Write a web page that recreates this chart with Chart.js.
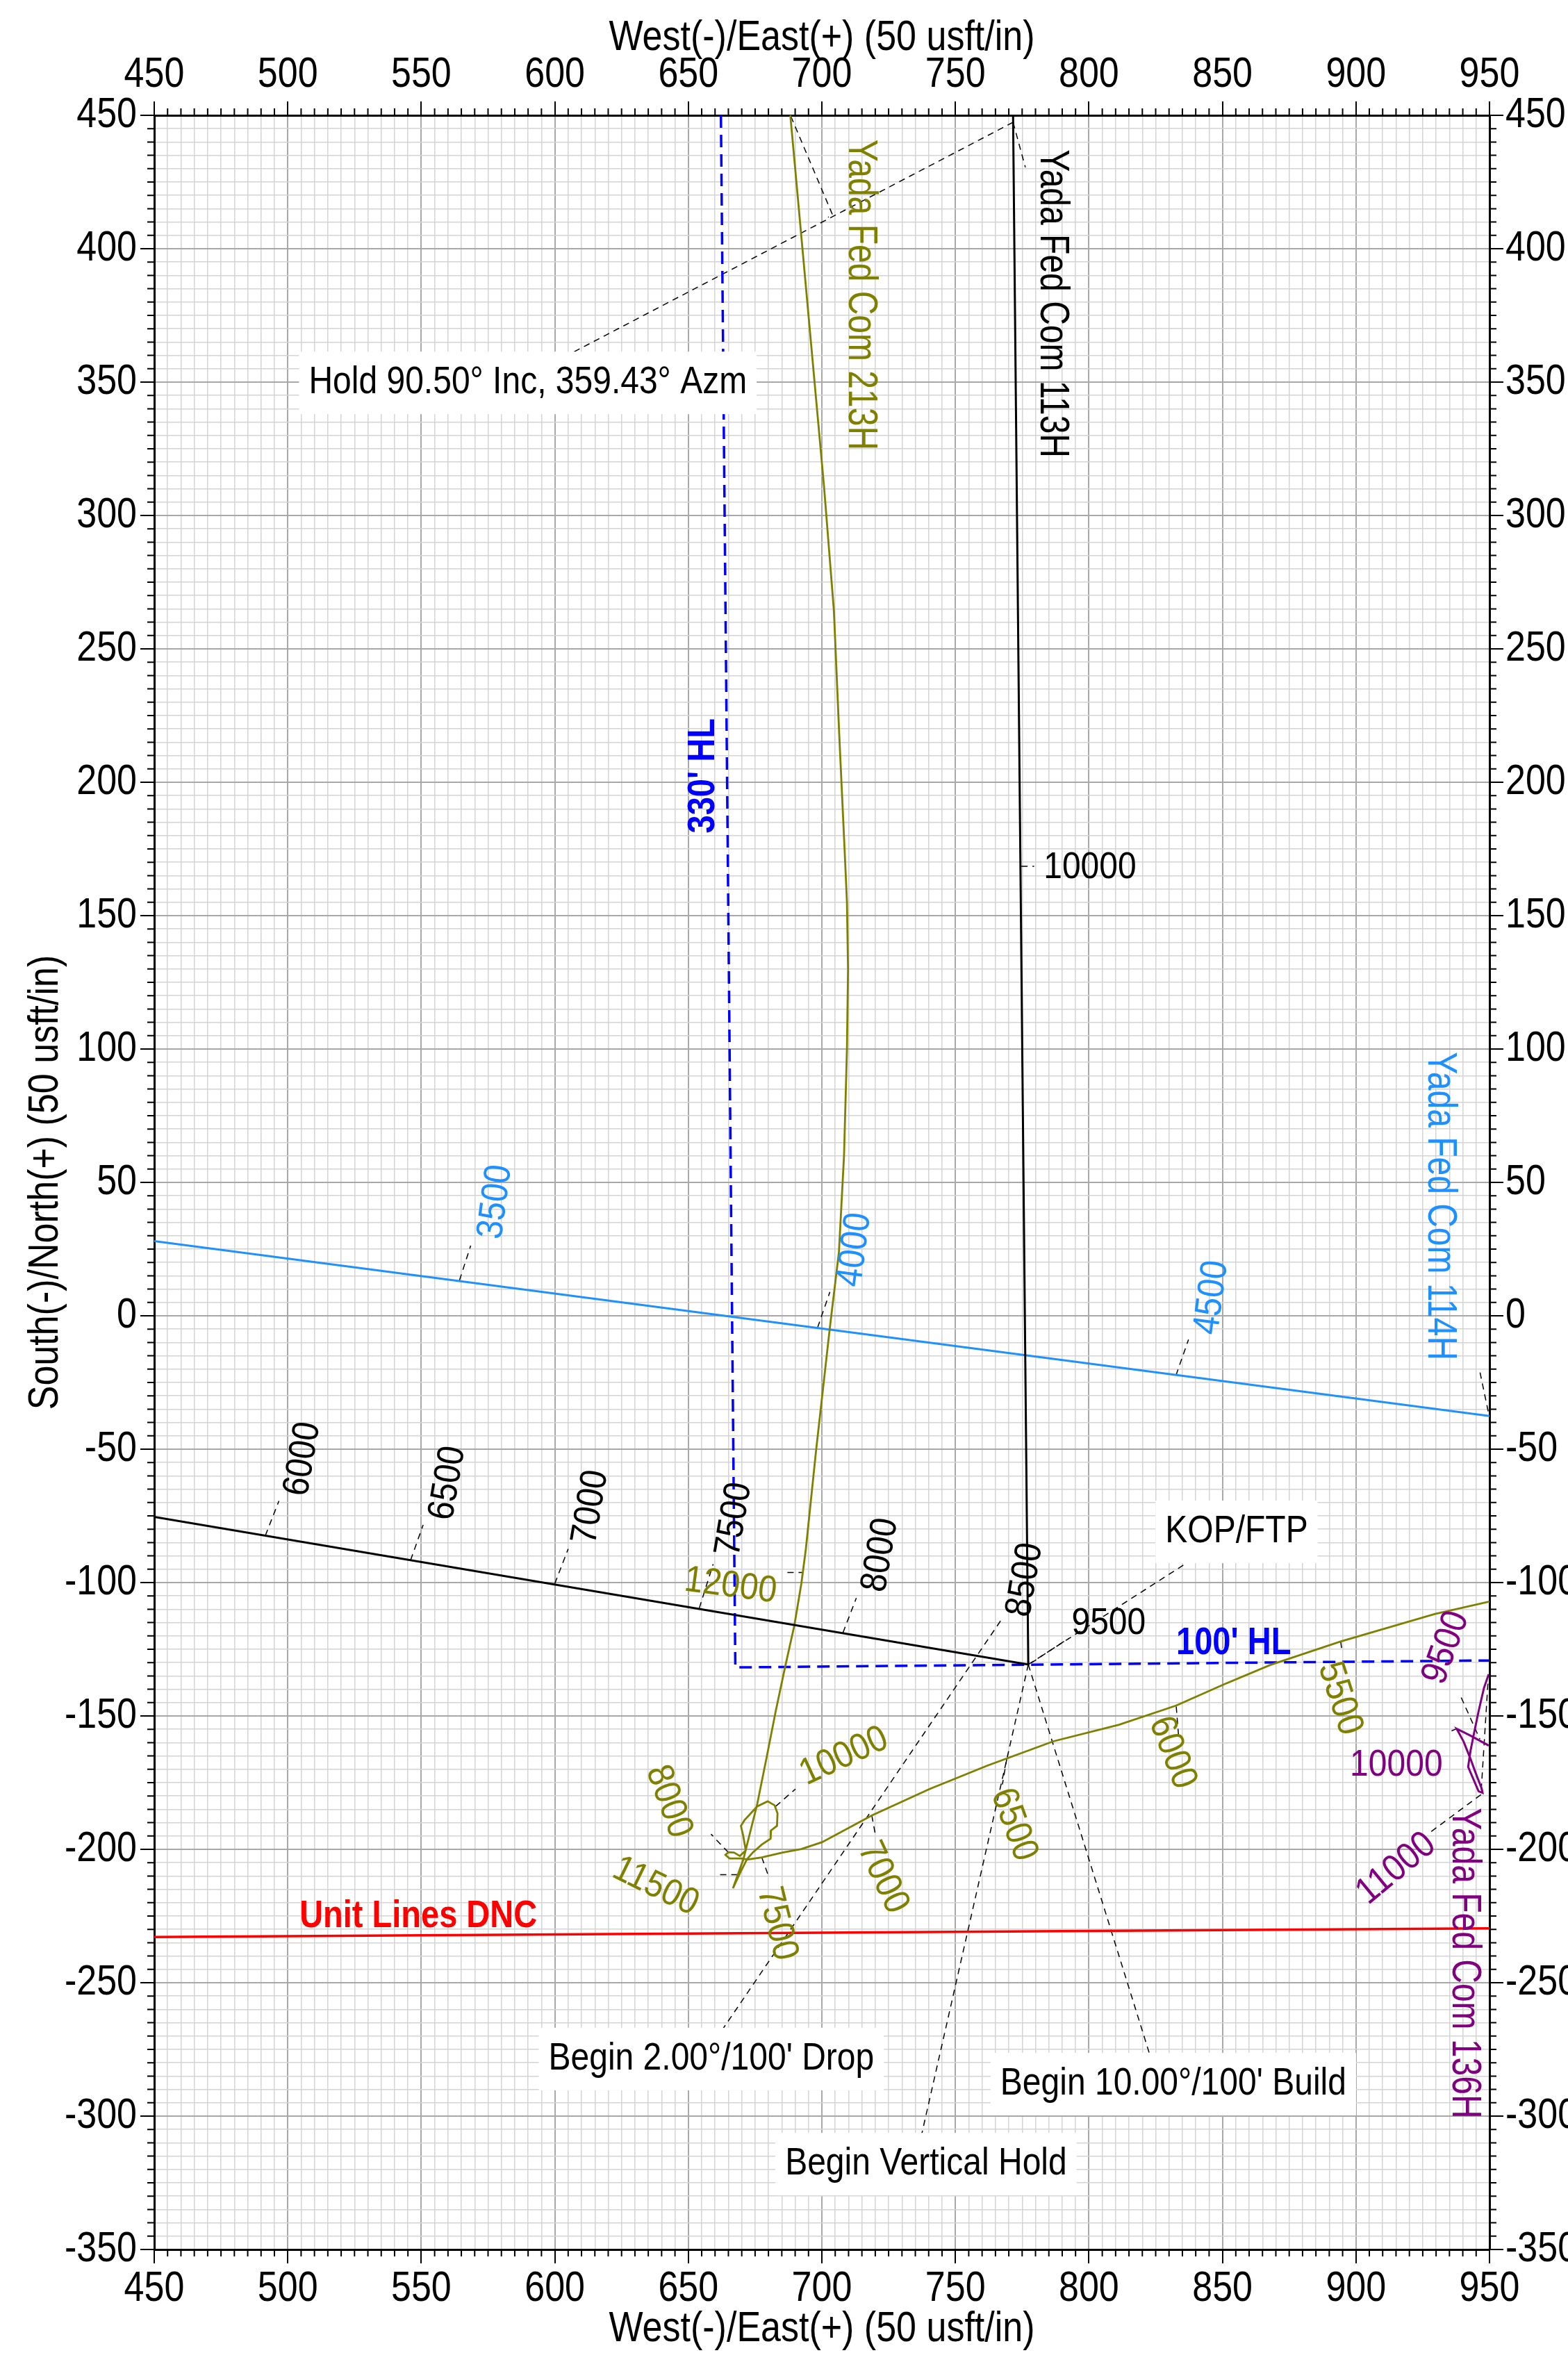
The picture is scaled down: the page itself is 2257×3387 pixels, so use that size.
<!DOCTYPE html>
<html>
<head>
<meta charset="utf-8">
<title>Yada Fed Com - plan view</title>
<script src="https://cdn.jsdelivr.net/npm/chart.js@4/dist/chart.umd.min.js"></script>
<style>
  html, body { margin: 0; padding: 0; background: #fff; }
  #wrap { width: 2257px; height: 3387px; }
</style>
</head>
<body>
<div id="wrap"><canvas id="plan" width="2257" height="3387"></canvas></div>
<script>
// axis ranges (usft)
const xMin = 450, xMax = 950;
const yMin = -350, yMax = 450;
const majorStep = 50;
const minorStep = 5;
const xTickLabels = [450, 500, 550, 600, 650, 700, 750, 800, 850, 900, 950];
const yTickLabels = [450, 400, 350, 300, 250, 200, 150, 100, 50, 0, -50, -100, -150, -200, -250, -300, -350];
const xTitle = 'West(-)/East(+) (50 usft/in)';
const yTitle = 'South(-)/North(+) (50 usft/in)';

const wellNames = ['Yada Fed Com 213H', 'Yada Fed Com 113H', 'Yada Fed Com 114H', 'Yada Fed Com 136H'];
const wellColors = ['#808000', '#000000', '#1e90ff', '#800080'];

// [east, north] pairs
const path213H = [
  [950, -107.1], [929.4, -111.8], [894.2, -122.1], [867.9, -130.9], [850.3, -138.3],
  [832.7, -146.1], [811.3, -153.3], [786.7, -159.5], [761.8, -168.7], [740.3, -177.4],
  [718.7, -187.3], [700.1, -197.3], [692.3, -199.9], [685.3, -201.2], [677.5, -203.0],
  [672.3, -203.8], [669.7, -203.4], [665.4, -203.4], [663.9, -202.1], [665.0, -201.1],
  [667.1, -201.2], [669.3, -202.5], [671.5, -200.4], [670.6, -195.2], [669.7, -191.2],
  [671.0, -189.1], [675.8, -183.9], [679.7, -182.0], [682.3, -183.5], [683.4, -186.5],
  [683.2, -191.2], [681.0, -192.9], [680.8, -196.0], [677.5, -198.2], [674.1, -201.2],
  [671.9, -203.8], [669.3, -209.0], [666.7, -214.6], [670.6, -203.8], [675.8, -183.0],
  [679.3, -165.6], [682.7, -148.3], [686.2, -131.8], [689.7, -116.1], [692.3, -100.5],
  [694.0, -87.5], [697.8, -50.8], [703.0, -4.4], [706.4, 24.0], [708.3, 60.0],
  [709.4, 100.0], [709.8, 130.0], [709.4, 155.0], [708.5, 175.0], [706.5, 218.0],
  [704.5, 264.4], [700.8, 311.0], [688.2, 450]
];
const path113H = [[450, -75.4], [777.3, -130.7], [771.6, 450]];
const path114H = [[450, 28.0], [950, -37.6]];
const path136H = [
  [949.7, -134.4], [947.9, -139.6], [945.9, -148.3], [944.2, -156.5], [942.9, -163.0],
  [942.0, -169.1], [945.9, -178.2], [947.4, -178.8], [947.1, -177.3], [944.6, -170.8],
  [942.9, -166.1], [940.3, -159.6], [937.7, -154.8], [942.9, -157.4], [949.7, -161.1]
];
const unitLine = [[450, -232.9], [950, -229.6]];
const hardLine = [[662.2, 450], [667.6, -131.8], [950, -129.2]];

// measured depth labels: [text, east, north, angle deg, well index]
const mdLabels = [
  ['6000', 505.7, -53.7, -80.4, 1], ['6500', 560.0, -62.7, -80.4, 1],
  ['7000', 613.5, -71.7, -80.4, 1], ['7500', 667.2, -76.3, -80.4, 1],
  ['8000', 722.0, -89.7, -80.4, 1], ['8500', 776.2, -99.0, -80.4, 1],
  ['9500', 807.4, -115.5, 0, 1], ['10000', 800.4, 167.8, 0, 1],
  ['3500', 577.9, 42.7, -82.5, 2], ['4000', 712.4, 24.7, -82.5, 2], ['4500', 846.1, 6.8, -82.5, 2],
  ['5500', 893.9, -143.5, 72, 0], ['6000', 831.2, -163.8, 69, 0], ['6500', 771.8, -190.8, 70, 0],
  ['7000', 722.8, -210.6, 65, 0], ['7500', 683.1, -227.9, 76, 0], ['8000', 642.6, -182.1, 70, 0],
  ['10000', 708.3, -165.2, -25, 0], ['11500', 637.7, -214.0, 26, 0], ['12000', 665.8, -101.4, 7.5, 0],
  ['9500', 933.8, -124.4, -70, 3], ['10000', 915.1, -168.6, 0, 3], ['11000', 915.1, -207.3, -39.6, 3]
];

// well name labels: [well index, east, north]
const nameLabels = [[0, 714.3, 382.7], [1, 786.1, 379.4], [2, 931.3, 41.1], [3, 940.5, -242.7]];

// boxed notes: [text, east, north]
const notes = [
  ['Hold 90.50\u00B0 Inc, 359.43\u00B0 Azm', 589.9, 349.7],
  ['KOP/FTP', 855.3, -81.0],
  ['Begin 2.00\u00B0/100\' Drop', 658.6, -278.6],
  ['Begin 10.00\u00B0/100\' Build', 831.6, -288.0],
  ['Begin Vertical Hold', 739.0, -318.0]
];

// bold line labels: [text, east, north, angle, colour]
const lineLabels = [
  ['330\' HL', 655.6, 202.4, -90, '#0000ff'],
  ['100\' HL', 854.2, -122.8, 0, '#0000ff'],
  ['Unit Lines DNC', 548.9, -225.0, 0, '#ff0000']
];

// dashed leader lines
const leaders = [
  [[771.6, 447.4], [606.9, 361.2]], [[771.6, 447.4], [776.2, 430.5]],
  [[688.4, 449.6], [704.0, 412.7], [702.3, 411.8]], [[774.7, 168.5], [779.5, 168.5]],
  [[564.3, 13.3], [568.5, 26.3]], [[698.4, -4.4], [703.0, 8.9]], [[832.6, -22.3], [837.3, -8.9]],
  [[949.5, -35.8], [946.2, -20.0]],
  [[491.6, -82.4], [496.7, -69.4]], [[546.0, -91.6], [550.7, -78.4]], [[600.0, -100.4], [605.0, -87.4]],
  [[654.1, -109.6], [659.3, -93.1]], [[707.9, -118.8], [712.9, -105.8]],
  [[687.1, -96.2], [692.7, -96.2]],
  [[777.3, -130.7], [835.8, -93.2]], [[778.3, -130.2], [792.4, -120.9]],
  [[766.9, -114.4], [662.2, -268.4]], [[777.3, -130.7], [737.4, -306.7]], [[777.3, -130.7], [822.7, -276.7]],
  [[894.3, -122.2], [894.8, -126.0]], [[832.7, -146.5], [833.6, -157.8]], [[769.3, -165.8], [767.6, -175.7]],
  [[718.7, -187.3], [720.0, -194.3]], [[677.5, -203.0], [680.1, -210.3]], [[665.0, -201.2], [658.5, -194.3]],
  [[682.7, -183.9], [690.1, -177.4]], [[668.4, -209.5], [660.2, -209.5]],
  [[937.7, -154.8], [935.8, -155.6]], [[939.4, -143.1], [946.4, -158.7]],
  [[949.4, -137.9], [946.8, -179.5]], [[946.8, -179.5], [928.1, -193.4]]
];

const SANS = "'Liberation Sans', Arial, sans-serif";

function pts(arr) {
    return arr.map(p => ({ x: p[0], y: p[1] }));
}

function isMajor(v) {
    return Math.abs(v % majorStep) < 1e-6;
}

function lineSet(arr, color, width, dash) {
    return {
        data: pts(arr), showLine: true, borderColor: color, borderWidth: width,
        borderDash: dash || [], pointRadius: 0, tension: 0, fill: false
    };
}

// grid + tick marks come from chart.js, the labels are drawn by axisText below
function makeAxis(position, min, max, size, onArea) {
    const horizontal = position === 'top' || position === 'bottom';
    return {
        type: 'linear', position, min, max,
        afterFit: s => { if (horizontal) s.height = size; else s.width = size; },
        ticks: { display: false, stepSize: minorStep, autoSkip: false },
        grid: {
            drawOnChartArea: onArea,
            color: c => isMajor(c.tick.value) ? '#a8a8a8' : '#d4d4d4',
            lineWidth: c => isMajor(c.tick.value) ? 2 : 1.5,
            tickLength: 20,
            tickColor: c => isMajor(c.tick.value) ? '#000' : 'rgba(0,0,0,0)',
            tickWidth: 2
        },
        border: { color: '#000', width: 3 }
    };
}

function textAt(ctx, text, px, py, angle, align, color, font, stretch) {
    ctx.save();
    ctx.translate(px, py);
    ctx.rotate(angle * Math.PI / 180);
    ctx.scale(1, stretch);
    ctx.font = font;
    ctx.fillStyle = color;
    ctx.textAlign = align;
    ctx.textBaseline = 'middle';
    ctx.fillText(text, 0, 0);
    ctx.restore();
}

function drawText(chart, text, x, y, angle, color, font, stretch) {
    const px = chart.scales.x.getPixelForValue(x);
    const py = chart.scales.y.getPixelForValue(y);
    textAt(chart.ctx, text, px, py, angle, 'center', color, font, stretch);
}

const axisText = {
    id: 'axisText',
    afterDraw(chart) {
        const ctx = chart.ctx, a = chart.chartArea;
        const sx = chart.scales.x, sy = chart.scales.y;
        const f = '52px ' + SANS, k = 1.16;

        // minor tick marks, shorter than the major ones
        ctx.save();
        ctx.strokeStyle = '#000';
        ctx.lineWidth = 2;
        ctx.beginPath();
        for (let v = xMin; v <= xMax; v += minorStep) {
            if (isMajor(v)) continue;
            const px = sx.getPixelForValue(v);
            ctx.moveTo(px, a.top); ctx.lineTo(px, a.top - 10);
            ctx.moveTo(px, a.bottom); ctx.lineTo(px, a.bottom + 10);
        }
        for (let v = yMin; v <= yMax; v += minorStep) {
            if (isMajor(v)) continue;
            const py = sy.getPixelForValue(v);
            ctx.moveTo(a.left, py); ctx.lineTo(a.left - 10, py);
            ctx.moveTo(a.right, py); ctx.lineTo(a.right + 10, py);
        }
        ctx.stroke();
        ctx.restore();

        xTickLabels.forEach(v => {
            const px = sx.getPixelForValue(v);
            textAt(ctx, String(v), px, a.top - 57.5, 0, 'center', '#000', f, k);
            textAt(ctx, String(v), px, a.bottom + 57.5, 0, 'center', '#000', f, k);
        });
        yTickLabels.forEach(v => {
            const py = sy.getPixelForValue(v);
            textAt(ctx, String(v), a.left - 25, py, 0, 'right', '#000', f, k);
            textAt(ctx, String(v), a.right + 23, py, 0, 'left', '#000', f, k);
        });
        const cx = (a.left + a.right) / 2, cy = (a.top + a.bottom) / 2;
        textAt(ctx, xTitle, cx, 55, 0, 'center', '#000', f, k);
        textAt(ctx, xTitle, cx, 3353, 0, 'center', '#000', f, k);
        textAt(ctx, yTitle, 66, cy, -90, 'center', '#000', f, k);
    }
};

const planLabels = {
    id: 'planLabels',
    afterDatasetsDraw(chart) {
        const ctx = chart.ctx;
        mdLabels.forEach(l => drawText(chart, l[0], l[1], l[2], l[3], wellColors[l[4]], '48px ' + SANS, 1.12));
        nameLabels.forEach(l => drawText(chart, wellNames[l[0]], l[1], l[2], 90, wellColors[l[0]], '48px ' + SANS, 1.22));
        lineLabels.forEach(l => drawText(chart, l[0], l[1], l[2], l[3], l[4], 'bold 47px ' + SANS, 1.2));
        notes.forEach(n => {
            ctx.save();
            ctx.font = '48px ' + SANS;
            const w = ctx.measureText(n[0]).width;
            const px = chart.scales.x.getPixelForValue(n[1]);
            const py = chart.scales.y.getPixelForValue(n[2]);
            ctx.fillStyle = '#fff';
            ctx.fillRect(px - w / 2 - 14, py - 45, w + 28, 90);
            ctx.restore();
            drawText(chart, n[0], n[1], n[2], 0, '#000', '48px ' + SANS, 1.15);
        });
    }
};

const datasets = [
    lineSet(path136H, wellColors[3], 3),
    lineSet(path113H, wellColors[1], 3),
    lineSet(path213H, wellColors[0], 2.8),
    lineSet(path114H, wellColors[2], 3),
    lineSet(unitLine, '#ff0000', 3.5),
    lineSet(hardLine, '#0000ff', 3.5, [18, 10])
].concat(leaders.map(l => lineSet(l, '#000', 1.5, [9, 7])));

new Chart(document.getElementById('plan'), {
    type: 'scatter',
    data: { datasets },
    options: {
        responsive: false,
        devicePixelRatio: 1,
        animation: false,
        layout: { padding: 0 },
        plugins: { legend: { display: false }, tooltip: { enabled: false } },
        scales: {
            x: makeAxis('bottom', xMin, xMax, 149, true),
            x2: makeAxis('top', xMin, xMax, 166, false),
            y: makeAxis('left', yMin, yMax, 222, true),
            y2: makeAxis('right', yMin, yMax, 113, false)
        }
    },
    plugins: [axisText, planLabels]
});
</script>
</body>
</html>
